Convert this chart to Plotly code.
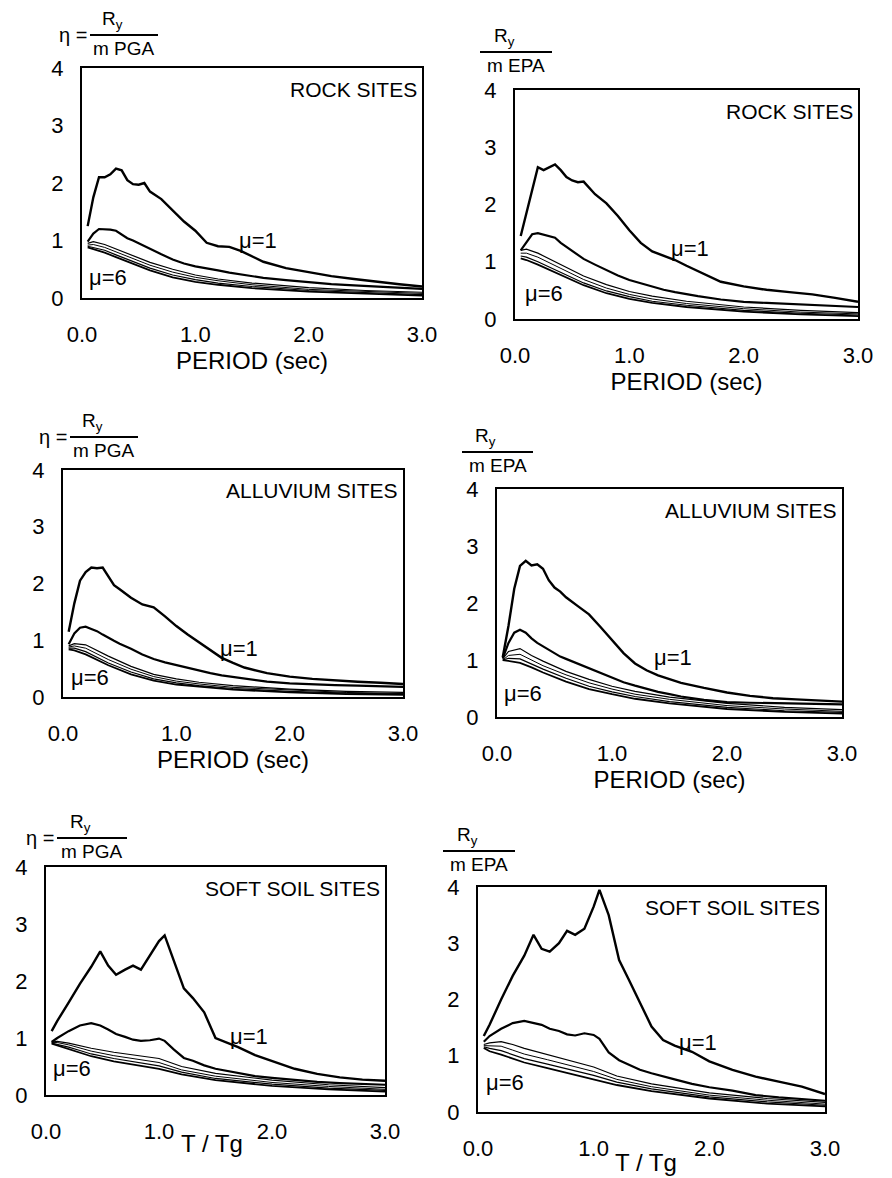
import plotly.graph_objects as go

# periods (sec) or T/Tg sampled along the curves
T_fine = [0.05, 0.1, 0.15, 0.2, 0.25, 0.3, 0.35, 0.4, 0.45, 0.5, 0.55, 0.6, 0.7, 0.8, 0.9,
          1.0, 1.1, 1.2, 1.3, 1.4, 1.5, 1.6, 1.8, 2.0, 2.2, 2.4, 2.6, 2.8, 3.0]
T_soft = [0.05, 0.1, 0.2, 0.3, 0.4, 0.48, 0.55, 0.62, 0.7, 0.77, 0.84, 0.92, 1.0, 1.05,
          1.13, 1.22, 1.3, 1.4, 1.5, 1.6, 1.7, 1.85, 2.0, 2.2, 2.4, 2.6, 2.8, 3.0]
T_coarse = [0.05, 0.1, 0.2, 0.3, 0.4, 0.6, 0.8, 1.0, 1.2, 1.5, 2.0, 2.5, 3.0]

# rock sites, normalised by PGA
rock_pga_mu1 = [1.25, 1.75, 2.1, 2.1, 2.15, 2.25, 2.22, 2.05, 1.98, 1.97, 2.0, 1.85, 1.72, 1.52, 1.33,
                1.17, 0.96, 0.9, 0.89, 0.82, 0.73, 0.63, 0.52, 0.45, 0.38, 0.33, 0.28, 0.24, 0.2]
rock_pga_mu2 = [0.98, 1.12, 1.2, 1.2, 1.19, 1.17, 1.1, 1.04, 1.0, 0.95, 0.9, 0.85, 0.76, 0.67, 0.6,
                0.55, 0.52, 0.48, 0.44, 0.41, 0.38, 0.35, 0.31, 0.27, 0.24, 0.22, 0.2, 0.18, 0.16]
rock_pga_mu3 = [0.95, 0.98, 0.93, 0.85, 0.77, 0.62, 0.5, 0.4, 0.33, 0.26, 0.18, 0.13, 0.1]
rock_pga_mu4 = [0.92, 0.93, 0.88, 0.8, 0.72, 0.57, 0.45, 0.36, 0.3, 0.23, 0.15, 0.11, 0.08]
rock_pga_mu5 = [0.9, 0.88, 0.83, 0.75, 0.67, 0.52, 0.4, 0.32, 0.26, 0.2, 0.13, 0.09, 0.06]
rock_pga_mu6 = [0.88, 0.85, 0.79, 0.71, 0.63, 0.48, 0.36, 0.28, 0.23, 0.17, 0.11, 0.07, 0.04]

# rock sites, normalised by EPA
rock_epa_mu1 = [1.45, 1.85, 2.3, 2.65, 2.6, 2.65, 2.7, 2.6, 2.48, 2.42, 2.39, 2.4, 2.18, 2.02, 1.8,
                1.55, 1.33, 1.18, 1.1, 1.03, 0.93, 0.84, 0.65, 0.57, 0.51, 0.47, 0.43, 0.37, 0.3]
rock_epa_mu2 = [1.2, 1.35, 1.48, 1.5, 1.47, 1.45, 1.42, 1.33, 1.26, 1.18, 1.12, 1.05, 0.95, 0.85, 0.76,
                0.68, 0.62, 0.56, 0.51, 0.47, 0.43, 0.4, 0.34, 0.3, 0.28, 0.26, 0.24, 0.23, 0.21]
rock_epa_mu3 = [1.2, 1.22, 1.15, 1.05, 0.95, 0.75, 0.6, 0.48, 0.4, 0.31, 0.21, 0.15, 0.11]
rock_epa_mu4 = [1.15, 1.15, 1.08, 0.98, 0.88, 0.69, 0.54, 0.43, 0.35, 0.27, 0.18, 0.12, 0.09]
rock_epa_mu5 = [1.1, 1.08, 1.0, 0.91, 0.82, 0.63, 0.49, 0.39, 0.31, 0.24, 0.15, 0.1, 0.07]
rock_epa_mu6 = [1.06, 1.03, 0.95, 0.86, 0.77, 0.59, 0.45, 0.35, 0.28, 0.21, 0.13, 0.08, 0.05]

# alluvium sites, normalised by PGA
allu_pga_mu1 = [1.15, 1.65, 2.05, 2.2, 2.28, 2.27, 2.28, 2.12, 1.97, 1.9, 1.82, 1.75, 1.63, 1.58, 1.42,
                1.25, 1.1, 0.96, 0.82, 0.69, 0.6, 0.52, 0.42, 0.36, 0.32, 0.29, 0.27, 0.25, 0.23]
allu_pga_mu2 = [0.93, 1.12, 1.22, 1.24, 1.2, 1.16, 1.1, 1.04, 0.99, 0.94, 0.9, 0.85, 0.75, 0.67, 0.61,
                0.56, 0.51, 0.47, 0.42, 0.38, 0.35, 0.32, 0.27, 0.24, 0.22, 0.21, 0.2, 0.19, 0.18]
allu_pga_mu3 = [0.9, 0.94, 0.92, 0.82, 0.72, 0.54, 0.4, 0.32, 0.26, 0.2, 0.14, 0.1, 0.08]
allu_pga_mu4 = [0.88, 0.9, 0.86, 0.76, 0.66, 0.49, 0.36, 0.28, 0.23, 0.17, 0.12, 0.08, 0.06]
allu_pga_mu5 = [0.86, 0.86, 0.8, 0.7, 0.6, 0.44, 0.32, 0.25, 0.2, 0.15, 0.1, 0.07, 0.05]
allu_pga_mu6 = [0.84, 0.82, 0.75, 0.65, 0.56, 0.4, 0.29, 0.22, 0.18, 0.13, 0.08, 0.05, 0.04]

# alluvium sites, normalised by EPA
allu_epa_mu1 = [1.05, 1.6, 2.25, 2.65, 2.74, 2.66, 2.68, 2.6, 2.4, 2.27, 2.2, 2.1, 1.95, 1.8, 1.58,
                1.35, 1.12, 0.94, 0.82, 0.73, 0.66, 0.6, 0.51, 0.43, 0.37, 0.33, 0.31, 0.29, 0.27]
allu_epa_mu2 = [1.03, 1.3, 1.48, 1.53, 1.48, 1.38, 1.3, 1.24, 1.18, 1.11, 1.06, 1.02, 0.94, 0.86, 0.77,
                0.69, 0.61, 0.55, 0.49, 0.44, 0.4, 0.36, 0.3, 0.26, 0.25, 0.24, 0.23, 0.23, 0.22]
allu_epa_mu3 = [1.02, 1.15, 1.2, 1.08, 0.98, 0.8, 0.66, 0.54, 0.45, 0.35, 0.24, 0.17, 0.13]
allu_epa_mu4 = [1.0, 1.08, 1.1, 1.0, 0.9, 0.74, 0.6, 0.49, 0.4, 0.31, 0.2, 0.14, 0.1]
allu_epa_mu5 = [1.0, 1.03, 1.02, 0.93, 0.84, 0.68, 0.54, 0.44, 0.36, 0.27, 0.17, 0.11, 0.08]
allu_epa_mu6 = [1.0, 0.98, 0.95, 0.87, 0.78, 0.62, 0.49, 0.4, 0.32, 0.24, 0.14, 0.09, 0.06]

# soft soil sites, normalised by PGA (x = T/Tg)
soft_pga_mu1 = [1.12, 1.3, 1.62, 1.95, 2.25, 2.52, 2.27, 2.11, 2.2, 2.27, 2.2, 2.45, 2.7, 2.8,
                2.35, 1.87, 1.7, 1.45, 1.0, 0.92, 0.84, 0.7, 0.6, 0.46, 0.37, 0.31, 0.27, 0.25]
soft_pga_mu2 = [0.93, 1.0, 1.12, 1.22, 1.26, 1.22, 1.15, 1.07, 1.02, 0.97, 0.95, 0.96, 0.99, 0.95,
                0.8, 0.65, 0.6, 0.52, 0.46, 0.42, 0.38, 0.33, 0.3, 0.26, 0.23, 0.21, 0.19, 0.18]
soft_pga_mu3 = [0.93, 0.94, 0.91, 0.86, 0.82, 0.75, 0.7, 0.64, 0.5, 0.38, 0.26, 0.18, 0.13]
soft_pga_mu4 = [0.92, 0.92, 0.88, 0.82, 0.77, 0.69, 0.63, 0.57, 0.44, 0.33, 0.22, 0.15, 0.1]
soft_pga_mu5 = [0.91, 0.89, 0.84, 0.78, 0.72, 0.64, 0.57, 0.51, 0.4, 0.29, 0.19, 0.12, 0.08]
soft_pga_mu6 = [0.9, 0.87, 0.8, 0.74, 0.68, 0.59, 0.52, 0.46, 0.36, 0.26, 0.16, 0.1, 0.06]

# soft soil sites, normalised by EPA (x = T/Tg)
soft_epa_mu1 = [1.35, 1.55, 2.0, 2.42, 2.78, 3.15, 2.9, 2.85, 3.0, 3.22, 3.15, 3.26, 3.65, 3.95,
                3.5, 2.7, 2.37, 1.93, 1.52, 1.28, 1.18, 1.07, 0.9, 0.75, 0.63, 0.54, 0.45, 0.32]
soft_epa_mu2 = [1.25, 1.35, 1.48, 1.58, 1.62, 1.58, 1.55, 1.48, 1.44, 1.38, 1.36, 1.4, 1.37, 1.3,
                1.06, 0.92, 0.84, 0.75, 0.69, 0.63, 0.58, 0.5, 0.44, 0.38, 0.3, 0.26, 0.23, 0.2]
soft_epa_mu3 = [1.2, 1.23, 1.25, 1.2, 1.13, 1.02, 0.92, 0.8, 0.64, 0.5, 0.34, 0.24, 0.17]
soft_epa_mu4 = [1.18, 1.18, 1.17, 1.1, 1.03, 0.93, 0.83, 0.72, 0.58, 0.45, 0.3, 0.21, 0.14]
soft_epa_mu5 = [1.16, 1.13, 1.09, 1.02, 0.95, 0.85, 0.75, 0.65, 0.53, 0.41, 0.27, 0.18, 0.12]
soft_epa_mu6 = [1.14, 1.08, 1.02, 0.95, 0.88, 0.78, 0.68, 0.59, 0.48, 0.37, 0.24, 0.15, 0.1]

site_names = ["ROCK SITES", "ROCK SITES", "ALLUVIUM SITES", "ALLUVIUM SITES",
              "SOFT SOIL SITES", "SOFT SOIL SITES"]

OFF = 8  # page body margin
W, H = 892 - OFF, 1178 - OFF
FONT = "Liberation Sans, Arial, Helvetica, sans-serif"


def px(p):
    return (p - OFF) / W


def py(p):
    return 1 - (p - OFF) / H


# panel frames in window pixels: x0, x1, ytop, ybottom
frames = [(82, 422, 68, 298), (515, 858, 90, 319),
          (63, 403, 470, 697), (497, 842, 489, 717),
          (46, 385, 867, 1095), (478, 825, 887, 1112)]

panels = [
    dict(x1=T_fine, mu=[rock_pga_mu1, rock_pga_mu2, rock_pga_mu3, rock_pga_mu4, rock_pga_mu5, rock_pga_mu6],
         den="PGA", mu1=(1.55, 1.0), mu6=(0.23, 0.35), xt="PERIOD (sec)"),
    dict(x1=T_fine, mu=[rock_epa_mu1, rock_epa_mu2, rock_epa_mu3, rock_epa_mu4, rock_epa_mu5, rock_epa_mu6],
         den="EPA", mu1=(1.53, 1.24), mu6=(0.25, 0.45), xt="PERIOD (sec)"),
    dict(x1=T_fine, mu=[allu_pga_mu1, allu_pga_mu2, allu_pga_mu3, allu_pga_mu4, allu_pga_mu5, allu_pga_mu6],
         den="PGA", mu1=(1.55, 0.86), mu6=(0.24, 0.35), xt="PERIOD (sec)"),
    dict(x1=T_fine, mu=[allu_epa_mu1, allu_epa_mu2, allu_epa_mu3, allu_epa_mu4, allu_epa_mu5, allu_epa_mu6],
         den="EPA", mu1=(1.53, 1.05), mu6=(0.23, 0.42), xt="PERIOD (sec)"),
    dict(x1=T_soft, mu=[soft_pga_mu1, soft_pga_mu2, soft_pga_mu3, soft_pga_mu4, soft_pga_mu5, soft_pga_mu6],
         den="PGA", mu1=(1.8, 1.02), mu6=(0.23, 0.47), xt=None, tt=(1.47, 1143)),
    dict(x1=T_soft, mu=[soft_epa_mu1, soft_epa_mu2, soft_epa_mu3, soft_epa_mu4, soft_epa_mu5, soft_epa_mu6],
         den="EPA", mu1=(1.9, 1.24), mu6=(0.23, 0.53), xt=None, tt=(1.45, 1162)),
]

widths = [2.4, 2.2, 1.2, 1.0, 1.2, 1.8]

fig = go.Figure()
annotations = []
shapes = []
layout = dict(width=W, height=H, margin=dict(l=0, r=0, t=0, b=0, autoexpand=False),
              paper_bgcolor="white", plot_bgcolor="white", showlegend=False,
              font=dict(family=FONT, color="black"))

for i, (p, fr) in enumerate(zip(panels, frames)):
    n = i + 1
    xa, ya = f"x{n}", f"y{n}"
    for k, ys in enumerate(p["mu"]):
        xs = p["x1"] if k < 2 else T_coarse
        fig.add_trace(go.Scatter(x=xs, y=ys, mode="lines", xaxis=xa, yaxis=ya,
                                 line=dict(color="black", width=widths[k]),
                                 name=f"μ={k + 1}"))
    x0, x1, yt, yb = fr
    xkey = "xaxis" if n == 1 else f"xaxis{n}"
    ykey = "yaxis" if n == 1 else f"yaxis{n}"
    xax = dict(domain=[px(x0), px(x1)], anchor=ya, range=[0, 3], tickvals=[0, 1, 2, 3],
               ticktext=["0.0", "1.0", "2.0", "3.0"], showgrid=False, zeroline=False,
               showline=True, mirror=True, linecolor="black", linewidth=2, automargin=False,
               ticks="", ticklabelstandoff=16, tickfont=dict(size=22, family=FONT))
    if p["xt"]:
        xax["title"] = dict(text=p["xt"], standoff=0, font=dict(size=24, family=FONT))
    layout[xkey] = xax
    layout[ykey] = dict(domain=[py(yb), py(yt)], anchor=xa, range=[0, 4], tickvals=[0, 1, 2, 3, 4],
                        showgrid=False, zeroline=False, showline=True, mirror=True,
                        linecolor="black", linewidth=2, ticks="", ticklabelstandoff=12,
                        automargin=False, tickfont=dict(size=22, family=FONT))

    # site name and ductility labels
    annotations.append(dict(xref=xa, yref=ya, x=2.97, y=3.63, text=site_names[i], showarrow=False,
                            xanchor="right", yanchor="middle", font=dict(size=21, family=FONT)))
    annotations.append(dict(xref=xa, yref=ya, x=p["mu1"][0], y=p["mu1"][1], text="μ=1",
                            showarrow=False, xanchor="center", yanchor="middle",
                            font=dict(size=22, family=FONT)))
    annotations.append(dict(xref=xa, yref=ya, x=p["mu6"][0], y=p["mu6"][1], text="μ=6",
                            showarrow=False, xanchor="center", yanchor="middle",
                            font=dict(size=22, family=FONT)))
    if p["xt"] is None:
        annotations.append(dict(xref=xa, yref="paper", x=p["tt"][0], y=py(p["tt"][1]), text="T / Tg",
                                showarrow=False, xanchor="center", yanchor="middle",
                                font=dict(size=24, family=FONT)))

# y-axis labels: eta = Ry / (m PGA) or Ry / (m EPA), drawn as a fraction above each frame
frac = [
    # (line x0, line x1, line y, has_eta)
    (90, 158, 35, True), (480, 552, 52, False),
    (70, 138, 437, True), (462, 533, 452, False),
    (57, 127, 838, True), (443, 515, 851, False),
]
for (lx0, lx1, ly, eta), p in zip(frac, panels):
    cx = (lx0 + lx1) / 2
    shapes.append(dict(type="line", xref="paper", yref="paper", x0=px(lx0), x1=px(lx1),
                       y0=py(ly), y1=py(ly), line=dict(color="black", width=2)))
    annotations.append(dict(xref="paper", yref="paper", x=px(cx - 12), y=py(ly - 1),
                            text="R<sub>y</sub>", showarrow=False, xanchor="center", yanchor="bottom",
                            font=dict(size=19, family=FONT)))
    annotations.append(dict(xref="paper", yref="paper", x=px(cx), y=py(ly + 1),
                            text="m " + p["den"], showarrow=False, xanchor="center", yanchor="top",
                            font=dict(size=19, family=FONT)))
    if eta:
        annotations.append(dict(xref="paper", yref="paper", x=px(lx0 - 1), y=py(ly),
                                text="η =", showarrow=False, xanchor="right", yanchor="middle",
                                font=dict(size=20, family=FONT)))

layout["annotations"] = annotations
layout["shapes"] = shapes
fig.update_layout(**layout)

fig.write_html("out.html")
